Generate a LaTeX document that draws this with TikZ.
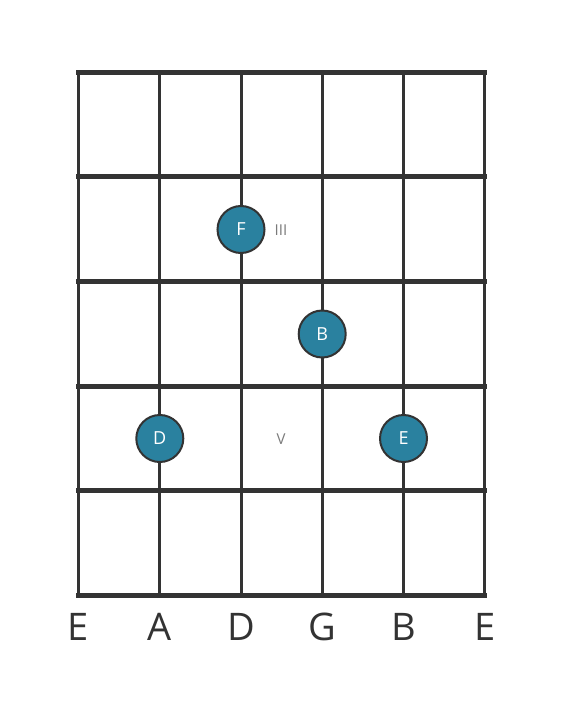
\documentclass[tikz,border=0pt]{standalone}
\usepackage{fontspec}
\setmainfont{Open Sans}
\usepackage{tikz}
\usetikzlibrary{positioning}

\definecolor{gridgray}{HTML}{333333}
\definecolor{noteblue}{HTML}{2A819F}
\definecolor{fingergray}{HTML}{7A7A7A}

\tikzset{
    fretline/.style={gridgray, line width=5pt},
    stringline/.style={gridgray, line width=3pt},
    notedot/.style={circle, draw=gridgray, line width=2pt, fill=noteblue,
        minimum size=47pt, inner sep=0pt, text=white, font=\fontsize{18}{18}\selectfont},
    fingerlabel/.style={text=fingergray, font=\fontsize{15}{15}\selectfont},
    stringname/.style={text=gridgray, font=\fontsize{38}{38}\selectfont}
}

\begin{document}
\begin{tikzpicture}[x=1pt, y=-1pt]

    \useasboundingbox (0,0) rectangle (566,711);

    % strings
    \foreach \i/\sx in {0/78.5,1/159.8,2/241,3/322.2,4/403.5,5/484.7} {
        \draw[stringline] (\sx,72.5) -- (\sx,595);
        \coordinate (s\i) at (\sx,627);
    }

    % frets
    \foreach \fy in {72.5,177,281.5,386,490.5,595} {
        \draw[fretline] (76,\fy) -- (487.2,\fy);
    }

    % notes
    \node[notedot] (noteF) at (241,229.5) {F};
    \node[notedot] (noteB) at (322.2,334) {B};
    \node[notedot] (noteD) at (159.8,438.5) {D};
    \node[notedot] (noteE) at (403.5,438.5) {E};

    % finger positions
    \node[fingerlabel] (posIII) at (281,230) {III};
    \node[fingerlabel] (posV) at (281,439) {V};

    % string names
    \foreach \i/\n in {0/E,1/A,2/D,3/G,4/B,5/E} {
        \node[stringname] (name\i) at (s\i) {\n};
    }

\end{tikzpicture}
\end{document}
